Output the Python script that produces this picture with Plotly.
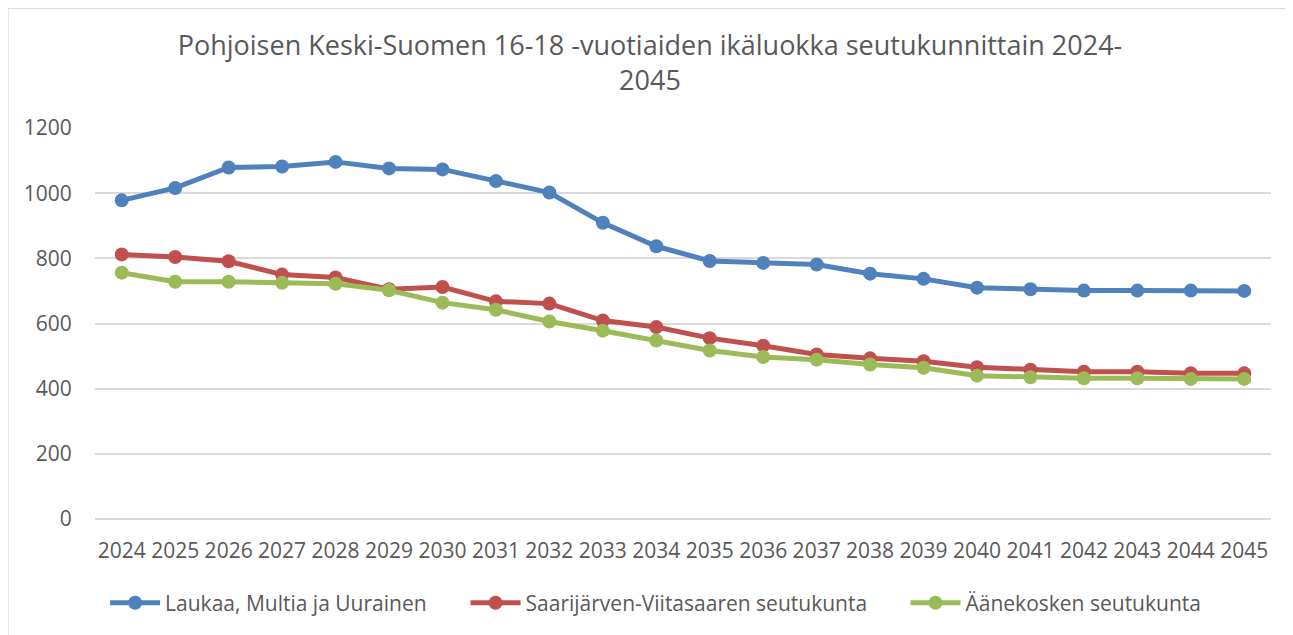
import plotly.graph_objects as go

years = [str(y) for y in range(2024, 2046)]
laukaa = [978, 1016, 1079, 1082, 1096, 1076, 1073, 1037, 1002, 909, 837,
          792, 786, 781, 753, 737, 710, 705, 701, 701, 701, 700]
saarijarvi = [812, 804, 791, 750, 741, 705, 712, 668, 661, 609, 589,
              555, 532, 505, 493, 484, 466, 458, 452, 452, 447, 447]
aanekoski = [756, 728, 728, 725, 722, 702, 664, 642, 606, 578, 548,
             517, 497, 489, 474, 464, 440, 435, 432, 432, 430, 430]

names = ["Laukaa, Multia ja Uurainen", "Saarijärven-Viitasaaren seutukunta", "Äänekosken seutukunta"]
colors = ["#4f81bd", "#c0504d", "#9bbb59"]
series = [laukaa, saarijarvi, aanekoski]
legend_ids = ["legend", "legend2", "legend3"]
legend_x = [0.0086, 0.3151, 0.6892]

FONT = "Open Sans"
TXT = "#595959"
W, H = 1285, 627  # page body has an 8px margin

fig = go.Figure()
for n, c, s, lg in zip(names, colors, series, legend_ids):
    fig.add_trace(go.Scatter(
        x=years, y=s, name=n, mode="lines+markers",
        line=dict(color=c, width=5),
        marker=dict(color=c, size=14),
        legend=lg,
    ))

leg_common = dict(
    orientation="h", xanchor="left", y=-0.215, yanchor="middle",
    font=dict(family=FONT, size=21, color=TXT), itemwidth=50,
    bgcolor="rgba(0,0,0,0)",
)

fig.update_layout(
    width=W, height=H,
    margin=dict(l=87, r=22, t=120, b=109),
    paper_bgcolor="white", plot_bgcolor="white",
    font=dict(family=FONT, color=TXT, size=21),
    title=dict(
        text="Pohjoisen Keski-Suomen 16-18 -vuotiaiden ikäluokka seutukunnittain 2024-<br>2045",
        x=642 / W, xanchor="center", xref="container",
        y=1 - 47 / H, yanchor="middle", yref="container",
        font=dict(family=FONT, size=27, color=TXT),
    ),
    xaxis=dict(
        type="category", range=[-0.5, 21.5],
        showgrid=False, showline=False, zeroline=False,
        ticks="outside", ticklen=13, tickcolor="rgba(0,0,0,0)",
        tickfont=dict(family=FONT, size=21, color=TXT),
    ),
    yaxis=dict(
        range=[0, 1200], dtick=200,
        showgrid=True, gridcolor="#d9d9d9", gridwidth=1.5,
        zeroline=True, zerolinecolor="#d9d9d9", zerolinewidth=1.5,
        showline=False,
        ticks="outside", ticklen=18, tickcolor="rgba(0,0,0,0)",
        tickfont=dict(family=FONT, size=21, color=TXT),
    ),
    showlegend=True,
    legend=dict(x=legend_x[0], **leg_common),
    legend2=dict(x=legend_x[1], **leg_common),
    legend3=dict(x=legend_x[2], **leg_common),
    shapes=[dict(
        type="rect", xref="paper", yref="paper",
        x0=-0.0741, x1=1.0244, y0=-0.35, y1=1.3064,
        line=dict(color="#d9d9d9", width=1.5), fillcolor="rgba(0,0,0,0)",
        layer="below",
    )],
)

fig.write_html("out.html")
